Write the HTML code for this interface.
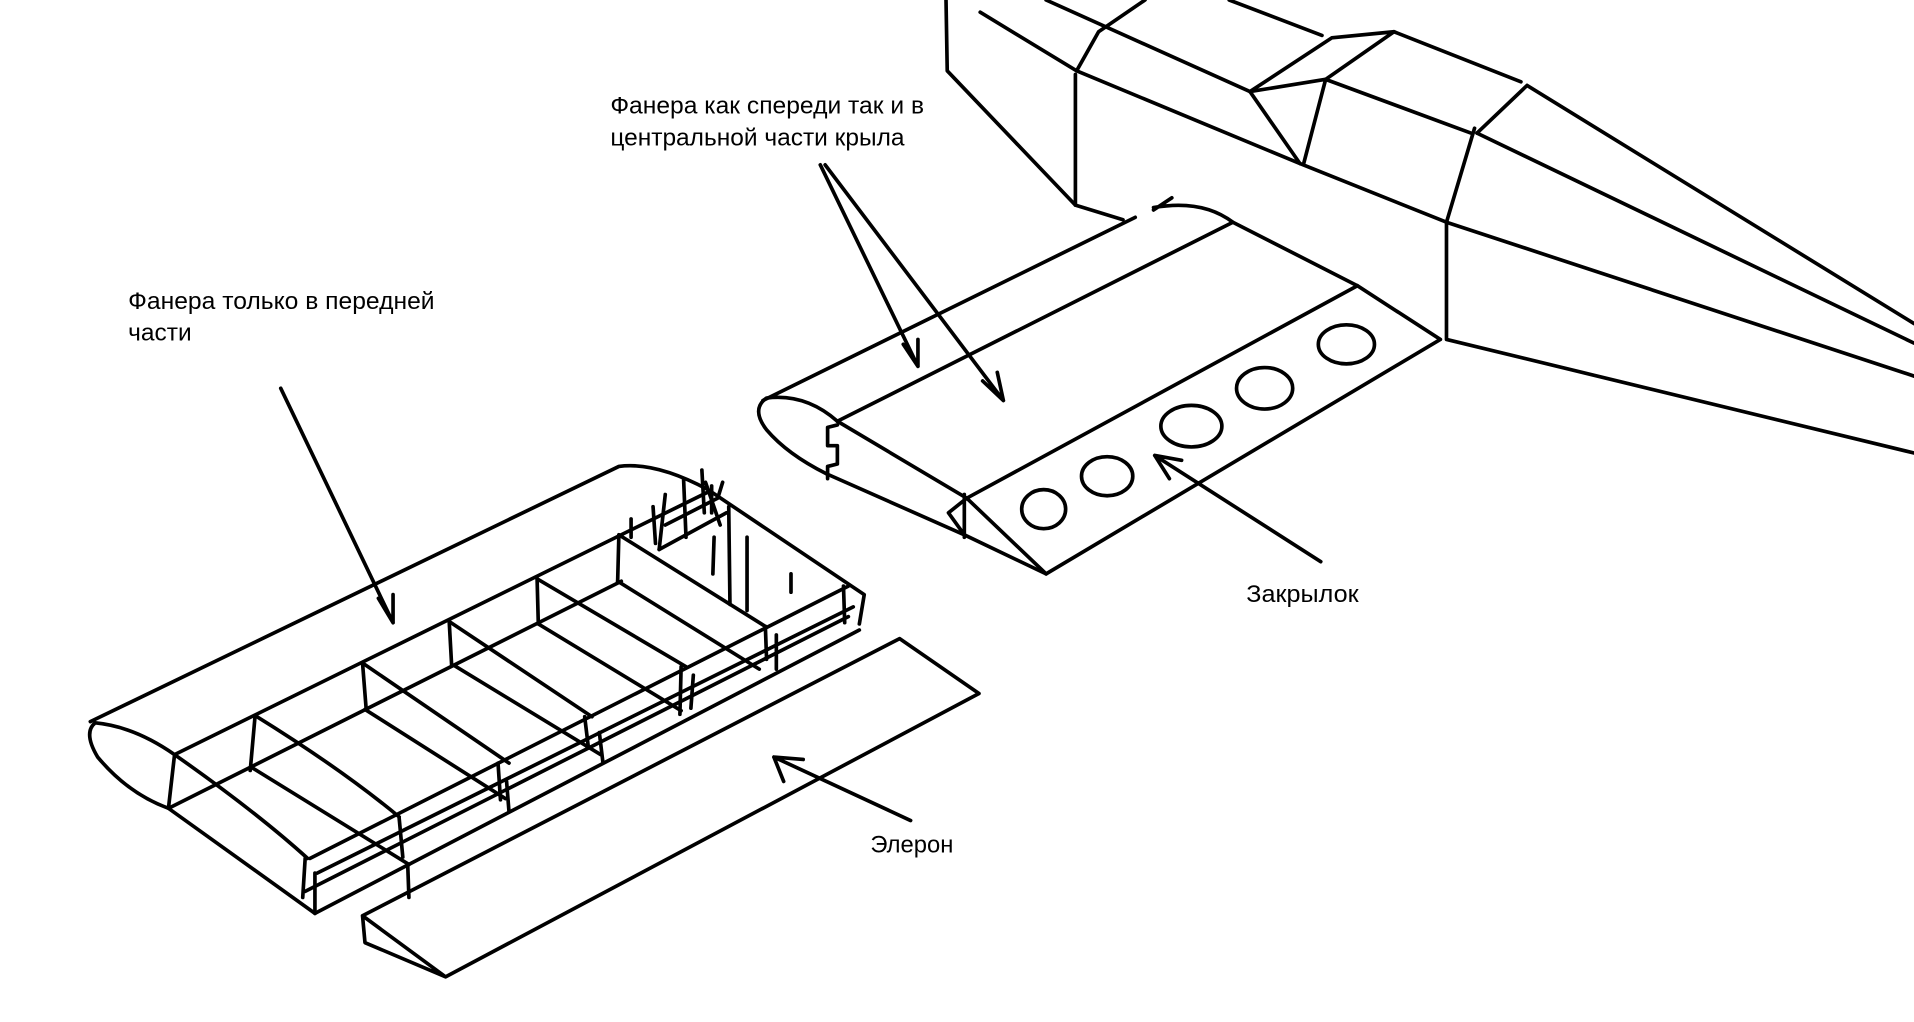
<!DOCTYPE html>
<html><head><meta charset="utf-8"><style>
html,body{margin:0;padding:0;background:#fff;}
svg{display:block;}
text{font-family:"Liberation Sans","DejaVu Sans",sans-serif;font-size:20px;fill:#000;}
</style></head><body>
<svg width="1914" height="1022" viewBox="0 0 1568 837" preserveAspectRatio="none" xmlns="http://www.w3.org/2000/svg">
<g fill="none" stroke="#000" stroke-width="3" stroke-linecap="round" stroke-linejoin="round">
<!-- fuselage -->
<path d="M775,0 L776,58 L881,168 L920,180"/>
<path d="M881,61 L881,168"/>
<path d="M803,10 L882,58 L900,26 L938,0"/>
<path d="M857,0 L1024,75"/>
<path d="M882,58 L1065,134 L1185,182 L1568,308"/>
<path d="M1185,182 L1185,278 L1568,371"/>
<path d="M1024,75 L1086,65 L1068,134 M1024,75 L1065,134"/>
<path d="M1024,75 L1091,31 L1142,26 L1086,65"/>
<path d="M1007,0 L1083,29"/>
<path d="M1142,26 L1246,67"/>
<path d="M1251,70 L1210,109 M1251,70 L1568,265"/>
<path d="M1208,105 L1185,182"/>
<path d="M1086,65 L1205,109 M1210,109 L1568,281"/>
<!-- flap section -->
<path d="M686,345 Q660,322 628,326 Q615,335 628,352 Q645,372 677,388"/>
<path d="M625,328 L930,178"/>
<path d="M945,172 L960,162 M945,170 Q985,163 1010,182"/>
<path d="M686,345 L1010,182 L1112,234 L1180,278 L857,470 L790,438 L677,388"/>
<path d="M1112,234 L792,408 L857,470"/>
<path d="M686,345 L792,408 L777,420 L790,438 M790,405 L790,440"/>
<path d="M686,348 L678,350 L678,365 L686,365 L686,380 L678,382 L678,392"/>
<ellipse cx="855" cy="417" rx="18" ry="16"/>
<ellipse cx="907" cy="390" rx="21" ry="16"/>
<ellipse cx="976" cy="349" rx="25" ry="17"/>
<ellipse cx="1036" cy="318" rx="23" ry="17"/>
<ellipse cx="1103" cy="282" rx="23" ry="16"/>
<!-- arrows -->
<path d="M672,135 L752,300 M740,282 L752,300 L752,278"/>
<path d="M676,135 L822,328 M805,312 L822,328 L817,305"/>
<path d="M1082,460 L946,373 M958,392 L946,373 L968,377"/>
<path d="M230,318 L322,510 M310,490 L322,510 L322,487"/>
<path d="M746,672 L634,620 M642,640 L634,620 L658,622"/>
<!-- left wing -->
<path d="M143,618 Q110,595 78,592 Q68,600 80,620 Q105,650 138,662 L143,618"/>
<path d="M74,591 L507,382 Q537,378 580,401 L708,487 L704,511"/>
<path d="M143,618 L580,403"/>
<path d="M138,662 L258,748"/>
<path d="M140,661 L509,476"/>
<path d="M209,586 L205,631 M297,543 L300,581 M368,509 L370,545 M440,474 L441,511 M507,438 L506,476"/>
<path d="M209,586 Q280,630 327,669 M297,543 L417,625 M368,509 L485,587 M440,474 L562,546 M507,438 L627,513"/>
<path d="M143,618 Q210,665 252,703 M207,629 L335,708 M299,581 L414,654 M372,545 L492,618 M441,511 L558,582 M506,476 L622,548"/>
<path d="M254,703 L695,480 M260,715 L699,497 M258,748 L704,516 M250,730 L695,505"/>
<path d="M250,703 L248,735 M258,715 L258,748 M327,670 L330,702 M334,708 L335,735 M408,625 L410,655 M415,640 L417,665 M479,587 L482,612 M491,600 L494,625 M558,546 L557,585 M568,553 L566,580 M627,513 L628,540 M636,520 L636,548 M691,480 L692,510"/>
<path d="M517,425 L517,440 M535,415 L537,445 M545,405 L540,450 M560,392 L562,440 M575,385 L577,420 M583,398 L583,420 M585,440 L584,470 M597,415 L598,495 M612,440 L612,500 M648,470 L648,485"/>
<path d="M540,450 L595,420 M545,430 L588,408 L592,395 M578,395 L590,430"/>
<!-- aileron -->
<path d="M297,750 L737,523 L802,568 L365,800 L299,772 L297,750 L365,800"/>
</g>
<text x="500" y="93" textLength="257" lengthAdjust="spacingAndGlyphs">Фанера как спереди так и в</text>
<text x="500" y="119" textLength="241" lengthAdjust="spacingAndGlyphs">центральной части крыла</text>
<text x="105" y="253" textLength="251" lengthAdjust="spacingAndGlyphs">Фанера только в передней</text>
<text x="105" y="279" textLength="52" lengthAdjust="spacingAndGlyphs">части</text>
<text x="1021" y="493" textLength="92" lengthAdjust="spacingAndGlyphs">Закрылок</text>
<text x="713" y="698" textLength="68" lengthAdjust="spacingAndGlyphs">Элерон</text>
</svg>
</body></html>
